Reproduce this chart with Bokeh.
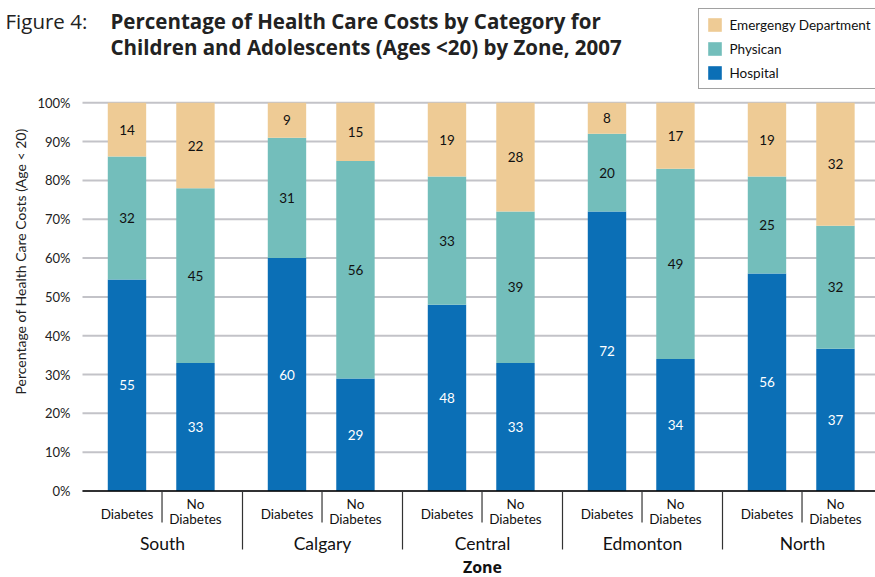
import numpy as np
from bokeh.plotting import figure
from bokeh.models import Range1d, ColumnDataSource, Legend, LegendItem
from bokeh.core.properties import value
from bokeh.embed import file_html
from bokeh.resources import INLINE

# ---------------- data ----------------
zones = ["South", "Calgary", "Central", "Edmonton", "North"]
groups = ["Diabetes", "No Diabetes"]
hospital = [55, 33, 60, 29, 48, 33, 72, 34, 56, 37]
physician = [32, 45, 31, 56, 33, 39, 20, 49, 25, 32]
emergency = [14, 22, 9, 15, 19, 28, 8, 17, 19, 32]
series_names = ["Hospital", "Physican", "Emergengy Department"]
y_ticks = [0, 10, 20, 30, 40, 50, 60, 70, 80, 90, 100]
y_tick_labels = ["0%", "10%", "20%", "30%", "40%", "50%", "60%", "70%",
                 "80%", "90%", "100%"]

colors = ["#0b6fb6", "#73bebb", "#eecb95"]
FONT = "Lato"
TFONT = "Open Sans"

# ---------------- geometry helpers ----------------
W, H = 875, 577
Y0_PX, PX_PER = 490.5, 3.882     # pixel row of 0 %, pixels per percent
X0_PX, GROUP_PX = 82, 160        # left edge of plot area, width of one zone


def ypx(py):
    return (Y0_PX - py) / PX_PER


def xpx(px):
    return (px - X0_PX) / GROUP_PX


X_END = xpx(W)
offsets = [0.278, 0.706]
bar_w = 0.24

x = []
for i in range(len(zones)):
    for o in offsets:
        x.append(i + o)

h = np.array(hospital, float)
ph = np.array(physician, float)
e = np.array(emergency, float)
tot = h + ph + e
hn, pn, en = h / tot * 100, ph / tot * 100, e / tot * 100

src = ColumnDataSource(dict(x=x, Hospital=hn, Physican=pn, Emergency=en))

p = figure(width=W, height=H, output_backend="svg", toolbar_location=None,
           title=None, x_axis_location=None, y_axis_location=None,
           x_range=Range1d(xpx(0), X_END),
           y_range=Range1d(ypx(H), ypx(0)),
           min_border_left=0, min_border_right=0, min_border_top=0,
           min_border_bottom=0)
p.outline_line_color = None
p.background_fill_color = "white"
p.xgrid.visible = False
p.ygrid.visible = False

# horizontal grid lines and y tick labels
p.segment(x0=[0] * len(y_ticks), y0=y_ticks, x1=[X_END] * len(y_ticks),
          y1=y_ticks, line_color="#c3c3c8", line_width=2)
p.text(x=[xpx(70)] * len(y_ticks), y=y_ticks, text=y_tick_labels,
       text_font=value(FONT), text_font_size="13px", text_color="#222222",
       text_align="right", text_baseline="middle")

rs = p.vbar_stack(["Hospital", "Physican", "Emergency"], x="x", width=bar_w,
                  source=src, color=colors, line_color=None)

# zero line
p.segment(x0=[0], y0=[0], x1=[X_END], y1=[0], line_color="black",
          line_width=1.5)

# value labels
lab_x, lab_y, lab_t, lab_c = [], [], [], []
for k in range(len(x)):
    base = 0.0
    for vals, raw, col in ((hn, hospital, "white"), (pn, physician, "#111111"),
                           (en, emergency, "#111111")):
        lab_x.append(x[k])
        lab_y.append(base + vals[k] / 2)
        lab_t.append(str(raw[k]))
        lab_c.append(col)
        base += vals[k]
p.text(x=lab_x, y=lab_y, text=lab_t, text_color=lab_c, text_font=value(FONT),
       text_font_size="13.5px", text_align="center", text_baseline="middle")

# category labels & separators
cx1, cy1, ct1 = [], [], []
for i in range(len(zones)):
    cx1.append(i + offsets[0]); cy1.append(ypx(513)); ct1.append(groups[0])
    cx1.append(i + offsets[1]); cy1.append(ypx(503)); ct1.append("No")
    cx1.append(i + offsets[1]); cy1.append(ypx(518)); ct1.append("Diabetes")
p.text(x=cx1, y=cy1, text=ct1, text_font=value(FONT), text_font_size="13.5px",
       text_align="center", text_baseline="middle", text_color="#111111")
p.text(x=[i + 0.5 for i in range(len(zones))], y=[ypx(543)] * len(zones),
       text=zones, text_font=value(FONT), text_font_size="17.5px",
       text_align="center", text_baseline="middle", text_color="#111111")
p.text(x=[2.5], y=[ypx(566)], text=["Zone"], text_font=value(TFONT),
       text_font_size="16px", text_font_style="bold", text_align="center",
       text_baseline="middle", text_color="#111111")

sub_sep = [i + 0.497 for i in range(len(zones))]
grp_sep = [i for i in range(1, len(zones))]
p.segment(x0=sub_sep, y0=[0] * len(sub_sep), x1=sub_sep,
          y1=[ypx(522)] * len(sub_sep), line_color="#333333", line_width=1.2)
p.segment(x0=grp_sep, y0=[0] * len(grp_sep), x1=grp_sep,
          y1=[ypx(549)] * len(grp_sep), line_color="#333333", line_width=1.2)

# y axis title
p.text(x=[xpx(20)], y=[ypx(261)],
       text=["Percentage of Health Care Costs (Age < 20)"], angle=np.pi / 2,
       text_align="center", text_baseline="middle", text_font=value(FONT),
       text_font_size="14px", text_color="#222222")

# chart title
p.text(x=[xpx(5)], y=[ypx(20)], text=["Figure 4:"], text_font=value(TFONT),
       text_font_size="20.5px", text_color="#222222", text_align="left",
       text_baseline="middle")
p.text(x=[xpx(110)] * 2, y=[ypx(20), ypx(46)],
       text=["Percentage of Health Care Costs by Category for",
             "Children and Adolescents (Ages <20) by Zone, 2007"],
       text_font=value(TFONT), text_font_size="20.5px",
       text_font_style="bold", text_color="#222222", text_align="left",
       text_baseline="middle")

# legend
items = [LegendItem(label=series_names[j], renderers=[rs[j]]) for j in (2, 1, 0)]
legend = Legend(items=items, location=(697.5, H - 89),
                orientation="vertical", padding=7, spacing=7, margin=0,
                glyph_width=17, glyph_height=17, label_height=17,
                label_standoff=7, label_text_font=FONT,
                label_text_font_size="13.5px", label_text_color="#111111",
                border_line_color="#444444", border_line_width=1,
                background_fill_color="white", background_fill_alpha=1)
p.add_layout(legend, "center")

open("out.html", "w").write(file_html(p, INLINE))
